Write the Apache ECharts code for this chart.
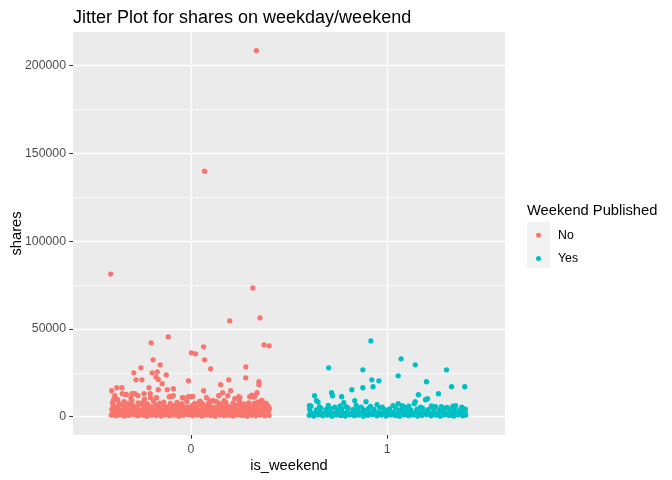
<!DOCTYPE html>
<html>
<head>
<meta charset="utf-8">
<script src="https://cdn.jsdelivr.net/npm/echarts@6/dist/echarts.min.js"></script>
<style>html,body{margin:0;padding:0;background:#fff}#c{width:672px;height:480px}</style>
</head>
<body>
<div id="c"></div>
<script>
// Categories and tick labels
const groups = ['No', 'Yes'];
const xTickValues = [0, 1];
const yTickValues = [0, 50000, 100000, 150000, 200000];
const yMinorValues = [25000, 75000, 125000, 175000];

// Jittered points: [is_weekend + jitter, shares]
const noOutliers = [
  [0.334,208500],[0.070,139800],[-0.408,81250],[0.316,73300],[0.352,56250],[0.198,54550],
  [-0.115,45460],[-0.202,42050],[0.065,39780],[0.373,40900],[0.399,40340],[0.003,36360],
  [0.024,35800],[-0.192,32390],[0.070,32390],[-0.156,29550],[0.280,28410],[-0.254,27840],
  [0.101,27270],[-0.290,25000],[-0.197,25000],[-0.171,25570],[-0.125,23860],[-0.178,22730],
  [-0.166,21200],[0.280,22160],[-0.279,21020],[-0.249,21020],[0.193,21020],[-0.012,20450],
  [0.347,19890],[0.347,18180],[-0.146,18750],[0.152,18180],[-0.213,16480],[-0.377,16480],
  [-0.351,16480],[-0.089,15910],[-0.403,14770],[-0.166,15340],[-0.120,15340],[0.065,14770],
  [0.203,14770],[-0.238,13070],[-0.207,13070],[-0.300,13070],[0.162,13640],[0.337,13640],
  [-0.331,12500],[-0.269,11930],[-0.110,11360],[-0.089,11930],[-0.387,11930],[-0.012,11360],
  [0.003,11360],[0.142,11930],[0.188,11930],[0.244,11360],[0.327,11930],[0.300,11360],
  [-0.043,10800],[0.080,10800],[0.224,10230],[-0.392,9660],[0.363,9090],[0.044,8520],
  [0.131,8520],[-0.349,13070],[-0.329,12670],[-0.285,13070],[-0.205,10800],[-0.390,10400],
  [-0.373,9660],[-0.305,10800],[-0.236,10000],[-0.175,10800],[-0.100,11530],[-0.038,10800],
  [0.250,10800],[0.311,12270],[0.322,11140],[0.010,11530],[0.360,9260],[0.370,7730],
  [0.048,8860],[0.100,9000],[0.170,9200],[0.393,5850]
];
const noBand = [
  [-0.405,900],[-0.382,600],[-0.361,1100],[-0.338,400],[-0.316,800],[-0.291,1200],[-0.270,500],
  [-0.246,900],[-0.224,300],[-0.199,1000],[-0.177,700],[-0.152,400],[-0.131,1100],[-0.108,600],
  [-0.084,900],[-0.061,300],[-0.039,800],[-0.014,1200],[0.008,500],[0.031,900],[0.055,400],
  [0.078,1000],[0.101,700],[0.124,300],[0.147,1100],[0.170,600],[0.193,800],[0.216,400],
  [0.239,1000],[0.262,700],[0.286,300],[0.309,900],[0.331,500],[0.354,1100],[0.377,600],[0.398,800],
  [-0.393,1700],[-0.371,1500],[-0.349,1900],[-0.326,1400],[-0.303,1800],[-0.280,1600],[-0.258,1500],
  [-0.234,1900],[-0.211,1400],[-0.187,1700],[-0.164,1800],[-0.141,1500],[-0.119,1600],[-0.095,1900],
  [-0.072,1400],[-0.049,1700],[-0.026,1800],[-0.002,1500],[0.020,1600],[0.043,1900],[0.067,1400],
  [0.089,1700],[0.113,1800],[0.135,1500],[0.159,1600],[0.182,1900],[0.204,1400],[0.227,1700],
  [0.251,1800],[0.273,1500],[0.296,1600],[0.320,1900],[0.342,1400],[0.365,1700],[0.388,1800],
  [-0.398,2600],[-0.374,2100],[-0.350,2900],[-0.327,2300],[-0.305,2700],[-0.281,2000],[-0.258,2800],
  [-0.235,2200],[-0.212,3000],[-0.189,2400],[-0.165,2100],[-0.143,2900],[-0.120,2300],[-0.096,2600],
  [-0.073,2000],[-0.050,2800],[-0.027,2200],[-0.004,2700],[0.019,2100],[0.043,2900],[0.066,2400],
  [0.090,2000],[0.112,2800],[0.136,2300],[0.158,2600],[0.181,2000],[0.205,2900],[0.228,2200],
  [0.250,2700],[0.274,2100],[0.297,2800],[0.320,2400],[0.343,2000],[0.366,2700],[0.389,2300],
  [-0.390,3400],[-0.366,3300],[-0.342,3500],[-0.318,3200],[-0.296,3400],[-0.272,3300],[-0.249,3500],
  [-0.226,3200],[-0.203,3400],[-0.180,3300],[-0.156,3600],[-0.133,3200],[-0.110,3400],[-0.087,3500],
  [-0.064,3300],[-0.041,3400],[-0.018,3200],[0.005,3500],[0.028,3300],[0.052,3400],[0.075,3200],
  [0.098,3500],[0.121,3300],[0.144,3400],[0.167,3600],[0.190,3200],[0.213,3400],[0.236,3300],
  [0.259,3500],[0.282,3200],[0.305,3400],[0.328,3300],[0.351,3500],[0.374,3200],[0.396,3400],
  [-0.402,4200],[-0.379,4700],[-0.356,3900],[-0.333,4500],[-0.310,4100],[-0.287,4800],[-0.263,3800],
  [-0.240,4400],[-0.218,4900],[-0.194,4000],[-0.171,4600],[-0.147,3900],[-0.125,4300],[-0.102,4800],
  [-0.079,4000],[-0.056,4500],[-0.032,3800],[-0.009,4400],[0.014,4700],[0.037,3900],[0.060,4300],
  [0.084,4800],[0.107,4100],[0.130,4500],[0.153,3800],[0.176,4600],[0.199,4200],[0.222,4900],
  [0.245,3900],[0.268,4400],[0.291,4700],[0.314,4000],[0.337,4500],[0.360,3900],[0.383,4300],[0.400,4600],
  [-0.396,6100],[-0.371,5600],[-0.345,6700],[-0.322,5800],[-0.296,6400],[-0.275,5500],[-0.252,6900],
  [-0.229,6000],[-0.205,5700],[-0.182,6600],[-0.158,5900],[-0.134,6200],[-0.112,5500],[-0.088,6500],
  [-0.064,5800],[-0.041,6100],[-0.018,5600],[0.006,6300],[0.028,5700],[0.051,6700],[0.074,5900],
  [0.096,6200],[0.119,5500],[0.143,6400],[0.166,5800],[0.188,6100],[0.211,5600],[0.234,6500],
  [0.257,5900],[0.280,6300],[0.303,5500],[0.326,6000],[0.349,6600],[0.371,5700],[0.392,6200],
  [-0.399,8000],[-0.366,7400],[-0.340,8600],[-0.318,7600],[-0.300,9200],[-0.268,7900],[-0.243,8400],
  [-0.221,7300],[-0.190,8800],[-0.160,7700],[-0.138,8300],[-0.105,7500],[-0.070,8100],[-0.046,7400],
  [-0.020,8700],[0.020,7600],[0.060,7300],[0.092,8000],[0.114,9100],[0.150,7400],[0.178,8200],
  [0.215,7700],[0.248,8500],[0.270,7300],[0.295,7900],[0.322,7500],[0.340,8300],[0.384,7600]
];
const yesOutliers = [
  [0.917,43180],[0.702,27840],[0.876,26700],[1.071,32950],[1.143,29550],[1.302,26700],
  [1.056,23300],[0.922,21020],[0.958,20450],[1.200,19890],[0.928,17050],[0.876,16480],
  [1.328,17050],[1.395,17050],[0.820,15340],[0.717,13640],[0.722,11930],[0.630,11930],
  [0.768,11360],[1.261,13070],[1.159,12500],[1.205,10230],[1.195,9660],[0.835,9090],
  [0.892,8520],[0.640,9090],[0.779,7950],[1.143,8520],[1.138,7390],[0.604,6250],
  [0.948,6820],[1.246,5680],[1.349,6250],[1.056,7390],[1.077,6250],[0.648,8300]
];
const yesBand = [
  [0.603,800],[0.626,400],[0.649,1100],[0.672,600],[0.695,900],[0.718,300],[0.741,1000],
  [0.764,700],[0.787,400],[0.810,1100],[0.833,600],[0.856,900],[0.879,300],[0.902,800],
  [0.925,1200],[0.948,500],[0.971,900],[0.994,400],[1.017,1000],[1.040,700],[1.063,300],
  [1.086,1100],[1.109,600],[1.132,900],[1.155,400],[1.178,800],[1.201,1200],[1.224,500],
  [1.247,900],[1.270,300],[1.293,1000],[1.316,700],[1.339,400],[1.362,1100],[1.385,600],[1.400,900],
  [0.610,2500],[0.634,2100],[0.657,2900],[0.681,2200],[0.704,2700],[0.727,2000],[0.751,2800],
  [0.774,2300],[0.797,2600],[0.820,2000],[0.844,2900],[0.867,2200],[0.890,2500],[0.913,2100],
  [0.937,2800],[0.960,2300],[0.983,2700],[1.006,2000],[1.030,2600],[1.053,2200],[1.076,2900],
  [1.099,2400],[1.122,2000],[1.146,2700],[1.169,2300],[1.192,2800],[1.215,2100],[1.239,2600],
  [1.262,2000],[1.285,2900],[1.308,2200],[1.332,2500],[1.355,2100],[1.378,2700],[1.397,2300],
  [0.605,4300],[0.640,3900],[0.662,4800],[0.690,4100],[0.713,4600],[0.745,3900],[0.768,4400],
  [0.800,5000],[0.826,4000],[0.850,4500],[0.880,3800],[0.905,4700],[0.932,4200],[0.962,5100],
  [0.990,3900],[1.012,4400],[1.044,4900],[1.068,4000],[1.095,4600],[1.120,3800],[1.152,4300],
  [1.180,4800],[1.208,4000],[1.236,4500],[1.265,3900],[1.290,4700],[1.318,4100],[1.345,4400],
  [1.372,3800],[1.398,4300],
  [0.612,6000],[0.655,5600],[0.700,6400],[0.733,5400],[0.760,6100],[0.790,5700],[0.842,6500],
  [0.868,5500],[0.915,5900],[0.975,5400],[1.030,6300],[1.085,5600],[1.110,6000],[1.170,5500],
  [1.225,6100],[1.276,5700],[1.305,5300],[1.335,6000],[1.380,5500]
];

const FONT = '"Liberation Sans", Arial, sans-serif';
const chart = echarts.init(document.getElementById('c'), null, {renderer: 'canvas'});
chart.setOption({
  animation: false,
  backgroundColor: '#FFFFFF',
  textStyle: {fontFamily: FONT},
  title: [
    {text: 'Jitter Plot for shares on weekday/weekend', left: 68, top: 4, padding: 5,
     textStyle: {fontFamily: FONT, fontSize: 18, fontWeight: 'normal', color: '#000'}},
    {text: 'Weekend Published', left: 522, top: 198, padding: 5,
     textStyle: {fontFamily: FONT, fontSize: 14.7, fontWeight: 'normal', color: '#000'}}
  ],
  graphic: [{type: 'rect', left: 527, top: 222, z: 0,
    shape: {width: 23, height: 46}, style: {fill: '#F2F2F2'}}],
  legend: {
    orient: 'vertical', left: 536, top: 223.5, padding: 0, itemGap: 0,
    itemWidth: 5, itemHeight: 5, icon: 'circle',
    data: groups,
    textStyle: {fontFamily: FONT, fontSize: 12.3, color: '#000', lineHeight: 23.4, padding: [0, 0, 0, 12]}
  },
  grid: {left: 73, right: 167, top: 32, bottom: 45, show: true, backgroundColor: '#EBEBEB',
         borderWidth: 0, containLabel: false, outerBoundsMode: 'none'},
  xAxis: {
    type: 'value', min: -0.6, max: 1.6,
    name: 'is_weekend', nameLocation: 'middle', nameGap: 23, nameMoveOverlap: false,
    nameTextStyle: {fontFamily: FONT, fontSize: 14.7, color: '#000'},
    axisLine: {show: false, onZero: false},
    axisTick: {show: true, length: 3.7, customValues: xTickValues, lineStyle: {color: '#333333', width: 1.1}},
    axisLabel: {customValues: xTickValues, margin: 8.5, fontFamily: FONT, fontSize: 12.3, color: '#4D4D4D',
                formatter: v => String(v)},
    splitLine: {show: true, lineStyle: {color: '#FFFFFF', width: 1.4}},
    minorTick: {show: false}
  },
  yAxis: [{
    type: 'value', min: -10430, max: 219130,
    name: 'shares', nameLocation: 'middle', nameGap: 49, nameRotate: 90, nameMoveOverlap: false,
    nameTextStyle: {fontFamily: FONT, fontSize: 14.7, color: '#000'},
    axisLine: {show: false, onZero: false},
    axisTick: {show: true, length: 3.7, customValues: yTickValues, lineStyle: {color: '#333333', width: 1.1}},
    axisLabel: {customValues: yTickValues, margin: 7, fontFamily: FONT, fontSize: 12.3, color: '#4D4D4D',
                formatter: v => String(v)},
    splitLine: {show: true, lineStyle: {color: '#FFFFFF', width: 1.4}}
  }, {
    type: 'value', min: -10430, max: 219130, position: 'left',
    axisLine: {show: false, onZero: false},
    axisTick: {show: false, customValues: yMinorValues},
    axisLabel: {show: false, customValues: yMinorValues},
    splitLine: {show: true, lineStyle: {color: '#FFFFFF', width: 0.7}}
  }],
  series: [
    {name: groups[0], type: 'scatter', symbol: 'circle', symbolSize: 5.3, yAxisIndex: 0,
     itemStyle: {color: '#F8766D', opacity: 1}, data: noOutliers.concat(noBand), z: 3},
    {name: groups[1], type: 'scatter', symbol: 'circle', symbolSize: 5.3, yAxisIndex: 0,
     itemStyle: {color: '#00BFC4', opacity: 1}, data: yesOutliers.concat(yesBand), z: 3}
  ]
});
</script>
</body>
</html>
